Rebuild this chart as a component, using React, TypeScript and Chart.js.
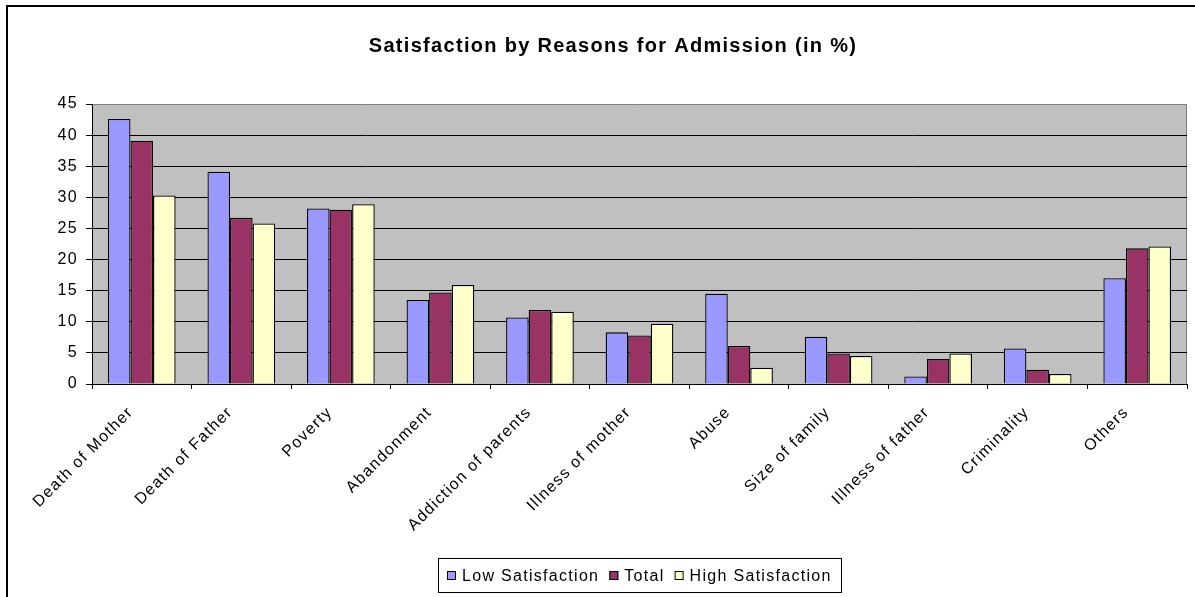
import React, { useEffect, useRef } from "react";
import { Chart, registerables } from "chart.js";

Chart.register(...registerables);

const CATEGORIES = [
  "Death of Mother",
  "Death of Father",
  "Poverty",
  "Abandonment",
  "Addiction of parents",
  "Illness of mother",
  "Abuse",
  "Size of family",
  "Illness of father",
  "Criminality",
  "Others",
];

const LOW_SATISFACTION = [42.6, 34.1, 28.2, 13.5, 10.7, 8.3, 14.5, 7.6, 1.2, 5.7, 17.0];
const TOTAL = [39.1, 26.7, 28.0, 14.7, 11.9, 7.8, 6.1, 4.9, 4.0, 2.3, 21.8];
const HIGH_SATISFACTION = [30.3, 25.8, 28.9, 15.9, 11.6, 9.7, 2.6, 4.5, 4.9, 1.6, 22.1];

const SERIES_NAMES = ["Low Satisfaction", "Total", "High Satisfaction"];
const SERIES_COLORS = ["#9999FF", "#993366", "#FFFFCC"];

const Y_MIN = 0;
const Y_MAX = 45;
const Y_STEP = 5;

const TITLE = "Satisfaction by Reasons for Admission (in %)";

const FONT = '"Liberation Sans", Arial, Helvetica, sans-serif';
const SPACING = "1.3px";

const decorPlugin = {
  id: "decor",
  beforeUpdate(chart: any) {
    chart.ctx.letterSpacing = SPACING;
  },
  beforeDraw(chart: any) {
    const ctx = chart.ctx;
    ctx.letterSpacing = SPACING;
    const a = chart.chartArea;
    ctx.save();
    ctx.fillStyle = "#ffffff";
    ctx.fillRect(0, 0, chart.width, chart.height);
    ctx.fillStyle = "#C0C0C0";
    ctx.fillRect(a.left, a.top, a.right - a.left, a.bottom - a.top);
    ctx.strokeStyle = "#808080";
    ctx.lineWidth = 1;
    ctx.beginPath();
    ctx.moveTo(a.left, Math.round(a.top) + 0.5);
    ctx.lineTo(Math.round(a.right) - 0.5, Math.round(a.top) + 0.5);
    ctx.lineTo(Math.round(a.right) - 0.5, a.bottom);
    ctx.stroke();
    ctx.restore();
  },
  afterDraw(chart: any) {
    const ctx = chart.ctx;
    const a = chart.chartArea;
    ctx.save();
    // outer frame
    ctx.fillStyle = "#000";
    ctx.fillRect(6, 5, 2, chart.height - 5);
    ctx.fillRect(6, 5, chart.width - 6, 2);

    // title
    ctx.letterSpacing = SPACING;
    ctx.font = `bold 20px ${FONT}`;
    ctx.textBaseline = "middle";
    ctx.textAlign = "left";
    const tw = ctx.measureText(TITLE).width;
    ctx.fillText(TITLE, 613 - tw / 2, 46);

    // legend
    ctx.font = `16px ${FONT}`;
    const box = 9;
    const gap = 6;
    const itemGap = 10;
    const padX = 9;
    const widths = SERIES_NAMES.map((n) => ctx.measureText(n).width);
    let total = padX * 2;
    widths.forEach((w, i) => {
      total += box + gap + w + (i > 0 ? itemGap : 0);
    });
    const cx = (a.left + a.right) / 2;
    const left = Math.round(cx - total / 2);
    const top = 558;
    const h = 34;
    ctx.strokeStyle = "#000";
    ctx.lineWidth = 1;
    ctx.strokeRect(left + 0.5, top + 0.5, Math.round(total), h);
    let x = left + padX;
    const cy = top + h / 2 + 0.5;
    SERIES_NAMES.forEach((n, i) => {
      ctx.fillStyle = SERIES_COLORS[i];
      ctx.fillRect(x, Math.round(cy - box / 2), box, box);
      ctx.strokeRect(x + 0.5, Math.round(cy - box / 2) + 0.5, box - 1, box - 1);
      ctx.fillStyle = "#000";
      ctx.fillText(n, x + box + gap, cy + 1);
      x += box + gap + widths[i] + itemGap;
    });
    ctx.restore();
  },
};

export default function App() {
  const ref = useRef<HTMLCanvasElement | null>(null);

  useEffect(() => {
    if (!ref.current) return;
    const datasets = [LOW_SATISFACTION, TOTAL, HIGH_SATISFACTION].map((d, i) => ({
      label: SERIES_NAMES[i],
      data: d,
      backgroundColor: SERIES_COLORS[i],
      borderColor: "#000000",
      borderWidth: 1.3,
      categoryPercentage: 0.68,
      barPercentage: 1,
    }));
    const chart = new Chart(ref.current, {
      type: "bar",
      data: { labels: CATEGORIES, datasets },
      plugins: [decorPlugin],
      options: {
        responsive: false,
        animation: false,
        events: [],
        layout: { padding: { top: 104, bottom: 39, right: 8, left: 0 } },
        font: { family: FONT },
        plugins: {
          legend: { display: false },
          title: { display: false },
          tooltip: { enabled: false },
        },
        scales: {
          x: {
            offset: true,
            afterFit: (s: any) => {
              s.height = 174;
            },
            grid: {
              display: true,
              drawOnChartArea: false,
              drawTicks: true,
              tickLength: 5,
              color: "#000",
              offset: true,
            },
            border: { color: "#000", width: 1 },
            ticks: {
              autoSkip: false,
              maxRotation: 45,
              minRotation: 45,
              color: "#000",
              padding: 14,
              labelOffset: -11,
              font: { family: FONT, size: 16 },
            },
          },
          y: {
            min: Y_MIN,
            max: Y_MAX,
            afterFit: (s: any) => {
              s.width = 92;
            },
            grid: {
              color: (c: any) => (c.tick && c.tick.value === Y_MAX ? "rgba(0,0,0,0)" : "#000"),
              tickColor: "#000",
              tickLength: 6,
              lineWidth: 1,
            },
            border: { color: "#000", width: 1 },
            ticks: {
              stepSize: Y_STEP,
              color: "#000",
              padding: 8,
              font: { family: FONT, size: 16 },
            },
          },
        },
      } as any,
    });
    return () => chart.destroy();
  }, []);

  return (
    <div style={{ position: "fixed", left: 0, top: 0, width: 1195, height: 597, background: "#fff" }}>
      <canvas ref={ref} width={1195} height={597} style={{ display: "block" }} />
    </div>
  );
}
